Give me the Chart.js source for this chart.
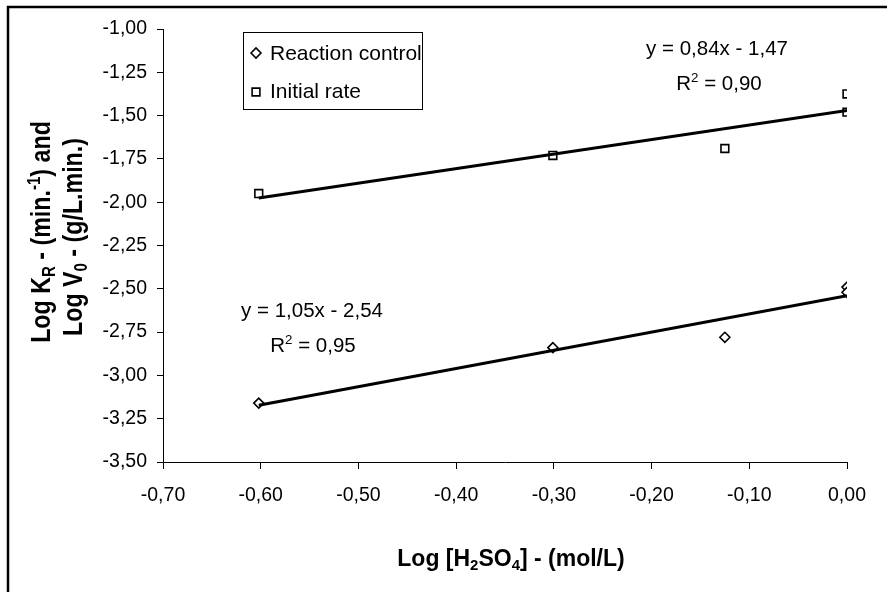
<!DOCTYPE html>
<html><head><meta charset="utf-8">
<script src="https://cdn.jsdelivr.net/npm/chart.js@4/dist/chart.umd.min.js"></script>
<style>html,body{margin:0;padding:0;background:#fff;}#wrap{width:887px;height:592px;position:relative;}</style>
</head><body><div id="wrap"><canvas id="c" width="887" height="592"></canvas></div>
<script>
// ---- data ----
const logConc = [-0.602, -0.301, -0.125, 0, 0];          // Log [H2SO4]
const reactionControl = [-3.16, -2.84, -2.78, -2.49, -2.52];
const initialRate = [-1.95, -1.73, -1.69, -1.375, -1.48];
const fitX = [-0.602, 0];
const reactionFitY = [-3.172, -2.54];
const initialFitY = [-1.976, -1.47];
const xTickValues = [-0.70, -0.60, -0.50, -0.40, -0.30, -0.20, -0.10, 0.00];
const yTickValues = [-1.00, -1.25, -1.50, -1.75, -2.00, -2.25, -2.50, -2.75, -3.00, -3.25, -3.50];
const seriesNames = ['Reaction control', 'Initial rate'];
const eqReaction = ['y = 1,05x - 2,54', '0,95'];
const eqInitial = ['y = 0,84x - 1,47', '0,90'];

const pts = (xs, ys) => xs.map((x, i) => ({x: x, y: ys[i]}));
const fmt = v => Number(v).toFixed(2).replace('.', ',');
const BASE = 'Liberation Sans, Arial, sans-serif';

function richWidth(ctx, segs, size, weight, family) {
  let w = 0;
  for (const s of segs) {
    const sz = s.sub || s.sup ? size * 0.65 : size;
    ctx.font = weight + ' ' + sz + 'px ' + family;
    w += ctx.measureText(s.t).width;
  }
  return w;
}
function drawRich(ctx, segs, x, y, size, weight, family, align) {
  const w = richWidth(ctx, segs, size, weight, family);
  let cx = align === 'center' ? x - w / 2 : x;
  ctx.textAlign = 'left';
  ctx.textBaseline = 'alphabetic';
  for (const s of segs) {
    const sz = s.sub || s.sup ? size * 0.65 : size;
    ctx.font = weight + ' ' + sz + 'px ' + family;
    const dy = s.sub ? size * 0.18 : (s.sup ? -size * 0.38 : 0);
    ctx.fillText(s.t, cx, y + dy);
    cx += ctx.measureText(s.t).width;
  }
}

const deco = {
  id: 'deco',
  afterDraw(chart) {
    const ctx = chart.ctx;
    ctx.save();
    ctx.fillStyle = '#000';
    ctx.strokeStyle = '#000';
    // outer frame (top + left visible)
    ctx.lineWidth = 2.5;
    ctx.beginPath();
    ctx.moveTo(8, 592); ctx.lineTo(8, 7); ctx.lineTo(887, 7);
    ctx.stroke();
    // legend box
    ctx.lineWidth = 1;
    ctx.strokeRect(243.5, 32.5, 179, 77);
    ctx.fillStyle = '#fff';
    ctx.lineWidth = 1.6;
    Chart.helpers.drawPoint(ctx, {pointStyle: 'rectRot', radius: 5, borderWidth: 1.6}, 256, 53);
    Chart.helpers.drawPoint(ctx, {pointStyle: 'rect', radius: 5.5, borderWidth: 1.6}, 256, 92);
    ctx.fillStyle = '#000';
    ctx.font = '21px ' + BASE;
    ctx.textAlign = 'left'; ctx.textBaseline = 'alphabetic';
    ctx.fillText(seriesNames[0], 270, 60);
    ctx.fillText(seriesNames[1], 270, 98);
    // equations
    drawRich(ctx, [{t: eqInitial[0]}], 717, 55, 20.5, 'normal', BASE, 'center');
    drawRich(ctx, [{t: 'R'}, {t: '2', sup: true}, {t: ' = ' + eqInitial[1]}], 719, 90, 20.5, 'normal', BASE, 'center');
    drawRich(ctx, [{t: eqReaction[0]}], 312, 317, 20.5, 'normal', BASE, 'center');
    drawRich(ctx, [{t: 'R'}, {t: '2', sup: true}, {t: ' = ' + eqReaction[1]}], 313, 352, 20.5, 'normal', BASE, 'center');
    // x title
    drawRich(ctx, [{t: 'Log [H'}, {t: '2', sub: true}, {t: 'SO'}, {t: '4', sub: true}, {t: '] - (mol/L)'}],
      511, 566, 23, 'bold', BASE, 'center');
    // y title (two lines, rotated)
    const NF = 'Liberation Sans Narrow, Arial Narrow, sans-serif';
    ctx.save();
    ctx.translate(50, 232);
    ctx.rotate(-Math.PI / 2);
    ctx.scale(0.86, 1);
    drawRich(ctx, [{t: 'Log K'}, {t: 'R', sub: true}, {t: ' - (min.'}, {t: '-1', sup: true}, {t: ') and'}], 0, 0, 27, 'bold', NF, 'center');
    ctx.restore();
    ctx.save();
    ctx.translate(82, 237);
    ctx.rotate(-Math.PI / 2);
    ctx.scale(0.86, 1);
    drawRich(ctx, [{t: 'Log V'}, {t: '0', sub: true}, {t: ' - (g/L.min.)'}], 0, 0, 27, 'bold', NF, 'center');
    ctx.restore();
    ctx.restore();
  }
};

new Chart(document.getElementById('c'), {
  type: 'scatter',
  data: {
    datasets: [
      {label: 'fitInitial', type: 'line', data: pts(fitX, initialFitY), showLine: true, borderColor: '#000', borderWidth: 3, pointRadius: 0, fill: false, order: 0},
      {label: 'fitReaction', type: 'line', data: pts(fitX, reactionFitY), showLine: true, borderColor: '#000', borderWidth: 3, pointRadius: 0, fill: false, order: 0},
      {label: seriesNames[0], data: pts(logConc, reactionControl), pointStyle: 'rectRot', pointRadius: 5, borderColor: '#000', backgroundColor: '#fff', pointBorderWidth: 1.6, order: 1},
      {label: seriesNames[1], data: pts(logConc, initialRate), pointStyle: 'rect', pointRadius: 5.5, borderColor: '#000', backgroundColor: '#fff', pointBorderWidth: 1.6, order: 1}
    ]
  },
  options: {
    responsive: false,
    animation: false,
    events: [],
    layout: {padding: {top: 29, right: 40, left: 0, bottom: 0}},
    plugins: {legend: {display: false}, tooltip: {enabled: false}},
    scales: {
      x: {
        type: 'linear', position: 'bottom', min: -0.7, max: 0,
        afterFit: s => { s.height = 130; },
        afterBuildTicks: s => { s.ticks = xTickValues.map(v => ({value: v})); },
        grid: {drawOnChartArea: false, drawTicks: true, tickLength: 7, color: '#000', lineWidth: 1},
        border: {color: '#000', width: 1},
        ticks: {color: '#000', font: {family: BASE, size: 19.5}, padding: 15, maxRotation: 0, autoSkip: false, callback: v => fmt(v)}
      },
      y: {
        type: 'linear', position: 'left', min: -3.5, max: -1,
        afterFit: s => { s.width = 163; },
        afterBuildTicks: s => { s.ticks = yTickValues.map(v => ({value: v})); },
        grid: {drawOnChartArea: false, drawTicks: true, tickLength: 6, color: '#000', lineWidth: 1},
        border: {color: '#000', width: 1},
        ticks: {color: '#000', font: {family: BASE, size: 19.5}, padding: 10, autoSkip: false, callback: v => fmt(v)}
      }
    }
  },
  plugins: [deco]
});
</script>
</body></html>
